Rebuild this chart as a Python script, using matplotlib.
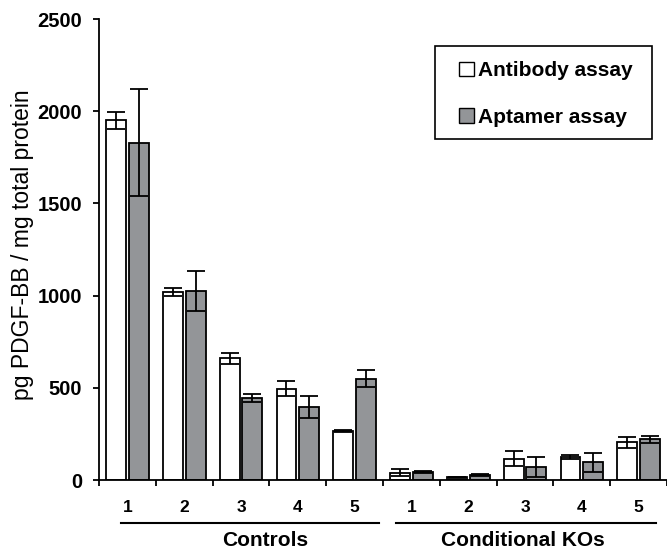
import numpy as np
import matplotlib.pyplot as plt
from matplotlib.patches import Patch, Rectangle

plt.rcParams["font.family"] = ["Liberation Sans", "DejaVu Sans"]

# =============================
# DATA
# =============================

categories = ["1", "2", "3", "4", "5", "1", "2", "3", "4", "5"]
groups = ["Controls", "Conditional KOs"]

antibody = [1950, 1020, 660, 495, 268, 40, 15, 115, 125, 205]
antibody_err = [45, 20, 30, 40, 5, 20, 3, 40, 12, 30]

aptamer = [1830, 1025, 445, 395, 550, 45, 25, 70, 95, 220]
aptamer_err = [290, 110, 20, 60, 45, 5, 5, 55, 50, 20]

y_ticks = [0, 500, 1000, 1500, 2000, 2500]

# =============================
# FIGURE
# =============================

fig = plt.figure(figsize=(6.67, 5.5), dpi=100)
ax = fig.add_axes([99 / 667, 70 / 550, 568 / 667, 461 / 550])

x = np.arange(len(categories))
width = 0.35
offset = 0.2
lw = 1.3

err_kw = dict(ecolor="black", elinewidth=lw, capsize=6.8, capthick=lw)

ax.bar(x - offset, antibody, width, color="white", edgecolor="black",
       linewidth=lw, yerr=antibody_err, error_kw=err_kw, zorder=2)
ax.bar(x + offset, aptamer, width, color="#939598", edgecolor="black",
       linewidth=lw, yerr=aptamer_err, error_kw=err_kw, zorder=2)

ax.set_xlim(-0.5, 9.465)
ax.set_ylim(0, 2500)

ax.spines["top"].set_visible(False)
ax.spines["right"].set_visible(False)
for side in ["left", "bottom"]:
    ax.spines[side].set_linewidth(lw)

ax.set_yticks(y_ticks)
ax.set_yticklabels([str(t) for t in y_ticks], fontsize=14.5, fontweight="bold")
ax.tick_params(axis="y", direction="out", length=4.5, width=lw, pad=7.5)

ax.set_xticks(x)
ax.set_xticklabels(categories, fontsize=12.5, fontweight="bold")
ax.tick_params(axis="x", which="major", length=0, pad=14.5)
ax.set_xticks(np.arange(-0.5, 10, 1.0), minor=True)
ax.tick_params(axis="x", which="minor", direction="out", length=4, width=lw)

# y label placed by hand to match the reference position
fig.text(23 / 667, 1 - 245 / 550, "pg PDGF-BB / mg total protein",
         rotation=90, ha="center", va="center", fontsize=16.5)

# group underlines and names
trans = ax.get_xaxis_transform()
group_lines = [(-0.12, 4.43), (4.73, 9.3)]
group_text_x = [2.42, 6.97]
for (x0, x1), tx, name in zip(group_lines, group_text_x, groups):
    ax.plot([x0, x1], [-0.0933, -0.0933], color="black", lw=1.5,
            transform=trans, clip_on=False)
    ax.text(tx, -0.131, name, transform=trans, ha="center", va="center",
            fontsize=15, fontweight="bold")

# legend with a hand-drawn frame
handles = [
    Patch(facecolor="white", edgecolor="black", linewidth=1.0),
    Patch(facecolor="#939598", edgecolor="black", linewidth=1.0),
]
fig.legend(handles, ["Antibody assay", "Aptamer assay"],
           loc="center", bbox_to_anchor=(546 / 667, 1 - 94 / 550),
           frameon=False, prop={"size": 15, "weight": "bold"},
           handlelength=0.7, handleheight=0.7, handletextpad=0.2,
           labelspacing=1.3)
fig.patches.append(Rectangle((435 / 667, 1 - 139 / 550), 217 / 667, 93 / 550,
                             transform=fig.transFigure, fill=False,
                             edgecolor="black", linewidth=1.2))

fig.savefig("out.png", dpi=100)
